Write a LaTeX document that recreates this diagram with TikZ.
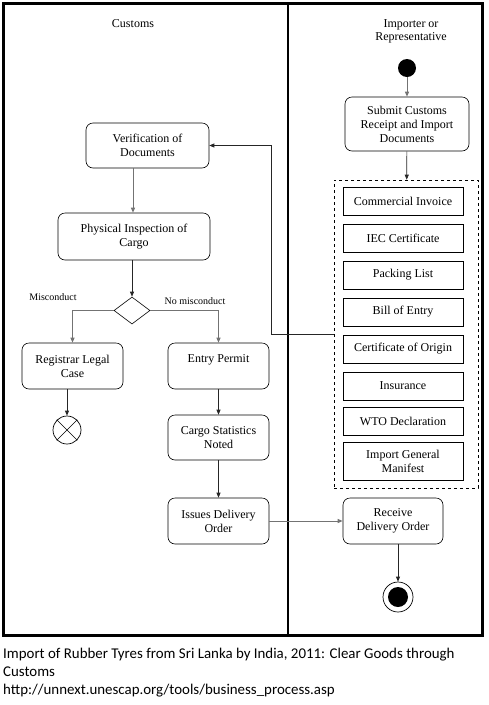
\documentclass[tikz,border=0pt]{standalone}
\usepackage{fontspec}
\setmainfont{Liberation Serif}
\newfontfamily\capfont{Carlito}
\usetikzlibrary{arrows.meta,shapes.geometric}
\begin{document}
\begin{tikzpicture}[x=1pt,y=-1pt,
  act/.style={draw, rounded corners=7pt, align=center, line width=0.6pt,
    font=\fontsize{12}{14}\selectfont, inner sep=1pt},
  doc/.style={draw, rectangle, align=center, line width=0.6pt,
    font=\fontsize{12}{14}\selectfont, inner sep=1pt, minimum width=120pt},
  flow/.style={-{Triangle[length=5pt,width=4pt]}, line width=0.7pt, draw=black!85},
  gflow/.style={-{Triangle[length=5pt,width=4pt]}, line width=1pt, draw=black!55},
  lbl/.style={font=\fontsize{10}{12}\selectfont, inner sep=0pt},
  lane/.style={font=\fontsize{12}{13.5}\selectfont, align=center, inner sep=0pt},
  captext/.style={anchor=base west, inner sep=0pt, font=\capfont\fontsize{14.9}{18}\selectfont}]
\useasboundingbox (0,0) rectangle (488,705);
% frame and lanes
\draw[line width=3pt] (3,3) rectangle (482,635);
\draw[line width=2pt] (288,3) -- (288,635);
\node[lane] (hcust) at (133,24) {Customs};
\node[lane] (himp) at (411,31.5) {Importer or\\Representative};
% importer lane
\node[circle, fill=black, minimum size=18pt, inner sep=0pt] (start) at (407,68) {};
\node[act, minimum width=124pt, minimum height=54pt] (submit) at (407,124)
  {Submit Customs\\Receipt and Import\\Documents};
\node[draw, dashed, line width=0.6pt, minimum width=144pt, minimum height=308pt] (docs) at (406,334) {};
\node[doc, minimum height=28pt] (d1) at (403,201) {Commercial Invoice};
\node[doc, minimum height=28pt] (d2) at (403,238) {IEC Certificate};
\node[doc, minimum height=28pt] (d3) at (403,275) {Packing List};
\node[doc, minimum height=28pt] (d4) at (403,312) {Bill of Entry};
\node[doc, minimum height=28pt] (d5) at (403,349) {Certificate of Origin};
\node[doc, minimum height=28pt] (d6) at (403,386) {Insurance};
\node[doc, minimum height=28pt] (d7) at (403,421) {WTO Declaration};
\node[doc, minimum height=38pt] (d8) at (403,461) {Import General\\Manifest};
\node[act, minimum width=100pt, minimum height=46pt] (receive) at (393,521) {Receive\\Delivery Order};
\node[circle, draw, line width=0.7pt, minimum size=30pt, inner sep=0pt] (end) at (398,597) {};
\fill (end.center) circle (10pt);
% customs lane
\node[act, minimum width=123pt, minimum height=45pt] (verif) at (147.5,145.5) {Verification of\\Documents};
\node[act, minimum width=152pt, minimum height=47pt] (phys) at (134,236.5) {Physical Inspection of\\Cargo};
\node[diamond, draw, line width=0.6pt, aspect=1.33, minimum width=36pt, minimum height=27pt, inner sep=0pt] (dia) at (132,310.5) {};
\node[lbl] (lmis) at (53,297) {Misconduct};
\node[lbl] (lnomis) at (195,301) {No misconduct};
\node[act, minimum width=101pt, minimum height=46pt] (reg) at (72.5,366) {Registrar Legal\\Case};
\node[act, minimum width=101pt, minimum height=46pt] (entry) at (218.5,366) {Entry Permit\\\mbox{}};
\node[circle, draw, line width=0.7pt, minimum size=28pt, inner sep=0pt] (ff) at (67,430) {};
\draw[line width=0.6pt] (ff.north east) -- (ff.south west) (ff.north west) -- (ff.south east);
\node[act, minimum width=101pt, minimum height=45pt] (cargo) at (218.5,437.5) {Cargo Statistics\\Noted};
\node[act, minimum width=101pt, minimum height=46pt] (issues) at (218.5,521) {Issues Delivery\\Order};
% connectors
\coordinate (loopc) at (271,145.5);
\draw[gflow] (start) -- (submit);
\draw[flow] (submit) -- (docs);
\draw[flow] (docs.west) -| (loopc) -- (verif.east);
\draw[gflow] (verif.south -| 133,0) -- (phys.north -| 133,0);
\draw[flow] (phys.south -| dia.north) -- (dia.north);
\draw[gflow] (dia.west) -| (reg.north);
\draw[gflow] (dia.east) -| (entry.north);
\draw[flow] (reg.south -| ff.north) -- (ff.north);
\draw[flow] (entry) -- (cargo);
\draw[flow] (cargo) -- (issues);
\draw[gflow] (issues) -- (receive);
\draw[flow] (receive.south -| end.north) -- (end.north);
% caption
\node[captext] (cap1) at (3,658)
  {Import of Rubber Tyres from Sri Lanka by India, 2011: Clear Goods through};
\node[captext] (cap2) at (3,676) {Customs};
\node[captext] (cap3) at (3,694)
  {http://unnext.unescap.org/tools/business\_process.asp};
\end{tikzpicture}
\end{document}
